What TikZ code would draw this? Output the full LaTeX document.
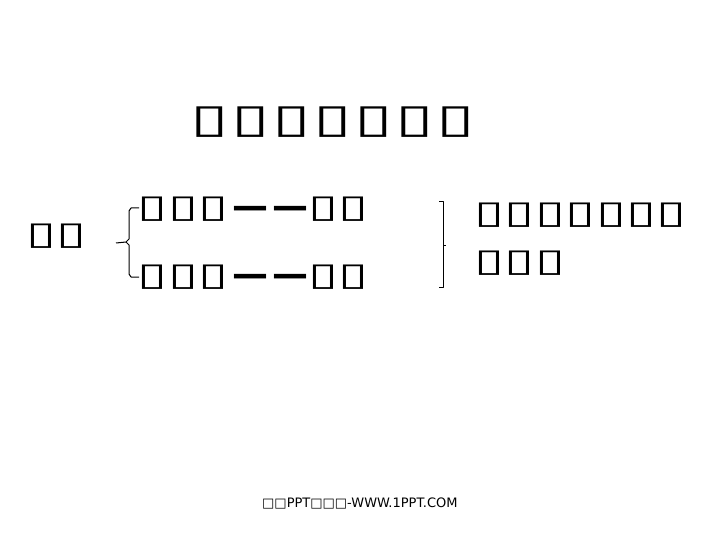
\documentclass[tikz,border=0pt]{standalone}
\usepackage{fontspec}
\setmainfont{DejaVu Sans}
\newfontfamily\titlefont[FakeStretch=1.75,LetterSpace=6]{DejaVu Sans}
\newfontfamily\rowfont[FakeStretch=1.7,LetterSpace=1.7]{DejaVu Sans}
\newfontfamily\dashfont[LetterSpace=11]{DejaVu Sans}
\tikzset{
  boxtext/.style={inner sep=0, anchor=west},
  braceline/.style={line width=1pt, line join=round}
}
\begin{document}
\begin{tikzpicture}[x=1pt,y=-1pt]
\useasboundingbox (0,0) rectangle (720,540);

\node[boxtext] (title) at (190.5,122) {\fontsize{40}{40}\titlefont\bfseries ▯▯▯▯▯▯▯};

\node[boxtext] (left) at (26,236.5) {\fontsize{32}{32}\rowfont ▯▯};

\node[boxtext] (topA) at (137.5,209) {\fontsize{32}{32}\rowfont ▯▯▯};
\node[boxtext] (topdash) at (232,212.5) {\fontsize{36}{36}\dashfont\bfseries ——};
\node[boxtext] (topB) at (308,209) {\fontsize{32}{32}\rowfont ▯▯};

\node[boxtext] (botA) at (137.5,277) {\fontsize{32}{32}\rowfont ▯▯▯};
\node[boxtext] (botdash) at (232,280.5) {\fontsize{36}{36}\dashfont\bfseries ——};
\node[boxtext] (botB) at (308,277) {\fontsize{32}{32}\rowfont ▯▯};

\node[boxtext] (right1) at (474,215) {\fontsize{32}{32}\rowfont ▯▯▯▯▯▯▯};
\node[boxtext] (right2) at (474,263) {\fontsize{32}{32}\rowfont ▯▯▯};

% left brace
\draw[braceline] (139,208) -- (131,208) -- (129,211) -- (129,239) -- (126,242) -- (116,243);
\draw[braceline] (126,242) -- (129,245) -- (129,274) -- (131,277) -- (139,277);

% right brace
\draw[braceline] (439,202) -- (443,202) -- (443,287) -- (439,287);
\draw[braceline] (443,245) -- (446,245);

\node[boxtext] (foot) at (262,503) {\fontsize{13}{13}\selectfont □□PPT□□□-WWW.1PPT.COM};
\end{tikzpicture}
\end{document}
